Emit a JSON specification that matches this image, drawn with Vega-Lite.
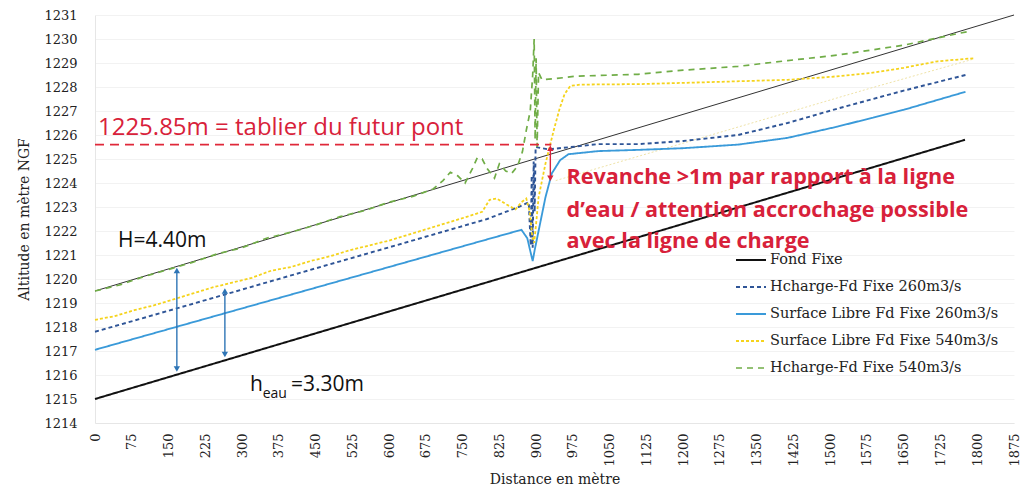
{
  "$schema": "https://vega.github.io/schema/vega-lite/v6.json",
  "width": 919,
  "height": 408,
  "autosize": "none",
  "padding": {"left": 95, "top": 15, "right": 8, "bottom": 67},
  "background": "white",
  "config": {
    "view": {"stroke": null},
    "axis": {"labelFont": "DejaVu Serif", "titleFont": "DejaVu Serif", "labelColor": "#222", "titleColor": "#222", "titleFontWeight": "normal", "labelOverlap": false, "labelFlush": false, "labelBound": false}
  },
  "datasets": {
    "series": [
      {"s": "Fond Fixe", "d": 0, "z": 1215},
      {"s": "Fond Fixe", "d": 900, "z": 1220.47},
      {"s": "Fond Fixe", "d": 1775, "z": 1225.8},

      {"s": "Hcharge-Fd Fixe 260m3/s", "d": 0, "z": 1217.8},
      {"s": "Hcharge-Fd Fixe 260m3/s", "d": 200, "z": 1218.97},
      {"s": "Hcharge-Fd Fixe 260m3/s", "d": 400, "z": 1220.15},
      {"s": "Hcharge-Fd Fixe 260m3/s", "d": 600, "z": 1221.32},
      {"s": "Hcharge-Fd Fixe 260m3/s", "d": 800, "z": 1222.5},
      {"s": "Hcharge-Fd Fixe 260m3/s", "d": 864, "z": 1223.0},
      {"s": "Hcharge-Fd Fixe 260m3/s", "d": 885, "z": 1223.2},
      {"s": "Hcharge-Fd Fixe 260m3/s", "d": 889, "z": 1221.4},
      {"s": "Hcharge-Fd Fixe 260m3/s", "d": 891, "z": 1224.3},
      {"s": "Hcharge-Fd Fixe 260m3/s", "d": 893, "z": 1221.3},
      {"s": "Hcharge-Fd Fixe 260m3/s", "d": 895, "z": 1224.9},
      {"s": "Hcharge-Fd Fixe 260m3/s", "d": 897, "z": 1222.8},
      {"s": "Hcharge-Fd Fixe 260m3/s", "d": 899, "z": 1225.5},
      {"s": "Hcharge-Fd Fixe 260m3/s", "d": 925, "z": 1225.4},
      {"s": "Hcharge-Fd Fixe 260m3/s", "d": 1027, "z": 1225.62},
      {"s": "Hcharge-Fd Fixe 260m3/s", "d": 1108, "z": 1225.62},
      {"s": "Hcharge-Fd Fixe 260m3/s", "d": 1200, "z": 1225.75},
      {"s": "Hcharge-Fd Fixe 260m3/s", "d": 1312, "z": 1226.0},
      {"s": "Hcharge-Fd Fixe 260m3/s", "d": 1413, "z": 1226.5},
      {"s": "Hcharge-Fd Fixe 260m3/s", "d": 1515, "z": 1227.1},
      {"s": "Hcharge-Fd Fixe 260m3/s", "d": 1650, "z": 1227.85},
      {"s": "Hcharge-Fd Fixe 260m3/s", "d": 1776, "z": 1228.5},

      {"s": "Surface Libre Fd Fixe 260m3/s", "d": 0, "z": 1217.05},
      {"s": "Surface Libre Fd Fixe 260m3/s", "d": 200, "z": 1218.2},
      {"s": "Surface Libre Fd Fixe 260m3/s", "d": 400, "z": 1219.35},
      {"s": "Surface Libre Fd Fixe 260m3/s", "d": 600, "z": 1220.5},
      {"s": "Surface Libre Fd Fixe 260m3/s", "d": 800, "z": 1221.65},
      {"s": "Surface Libre Fd Fixe 260m3/s", "d": 870, "z": 1222.05},
      {"s": "Surface Libre Fd Fixe 260m3/s", "d": 882, "z": 1221.7},
      {"s": "Surface Libre Fd Fixe 260m3/s", "d": 890, "z": 1221.0},
      {"s": "Surface Libre Fd Fixe 260m3/s", "d": 893, "z": 1220.75},
      {"s": "Surface Libre Fd Fixe 260m3/s", "d": 897, "z": 1221.2},
      {"s": "Surface Libre Fd Fixe 260m3/s", "d": 905, "z": 1222.0},
      {"s": "Surface Libre Fd Fixe 260m3/s", "d": 919, "z": 1223.4},
      {"s": "Surface Libre Fd Fixe 260m3/s", "d": 932, "z": 1224.4},
      {"s": "Surface Libre Fd Fixe 260m3/s", "d": 949, "z": 1224.95},
      {"s": "Surface Libre Fd Fixe 260m3/s", "d": 966, "z": 1225.2},
      {"s": "Surface Libre Fd Fixe 260m3/s", "d": 1027, "z": 1225.33},
      {"s": "Surface Libre Fd Fixe 260m3/s", "d": 1108, "z": 1225.38},
      {"s": "Surface Libre Fd Fixe 260m3/s", "d": 1200, "z": 1225.45},
      {"s": "Surface Libre Fd Fixe 260m3/s", "d": 1312, "z": 1225.6},
      {"s": "Surface Libre Fd Fixe 260m3/s", "d": 1413, "z": 1225.88},
      {"s": "Surface Libre Fd Fixe 260m3/s", "d": 1515, "z": 1226.35},
      {"s": "Surface Libre Fd Fixe 260m3/s", "d": 1650, "z": 1227.05},
      {"s": "Surface Libre Fd Fixe 260m3/s", "d": 1776, "z": 1227.8},

      {"s": "Surface Libre Fd Fixe 540m3/s", "d": 0, "z": 1218.3},
      {"s": "Surface Libre Fd Fixe 540m3/s", "d": 40, "z": 1218.45},
      {"s": "Surface Libre Fd Fixe 540m3/s", "d": 80, "z": 1218.7},
      {"s": "Surface Libre Fd Fixe 540m3/s", "d": 120, "z": 1218.9},
      {"s": "Surface Libre Fd Fixe 540m3/s", "d": 160, "z": 1219.15},
      {"s": "Surface Libre Fd Fixe 540m3/s", "d": 200, "z": 1219.4},
      {"s": "Surface Libre Fd Fixe 540m3/s", "d": 240, "z": 1219.65},
      {"s": "Surface Libre Fd Fixe 540m3/s", "d": 280, "z": 1219.85},
      {"s": "Surface Libre Fd Fixe 540m3/s", "d": 320, "z": 1220.05},
      {"s": "Surface Libre Fd Fixe 540m3/s", "d": 360, "z": 1220.35},
      {"s": "Surface Libre Fd Fixe 540m3/s", "d": 400, "z": 1220.5},
      {"s": "Surface Libre Fd Fixe 540m3/s", "d": 440, "z": 1220.75},
      {"s": "Surface Libre Fd Fixe 540m3/s", "d": 480, "z": 1220.95},
      {"s": "Surface Libre Fd Fixe 540m3/s", "d": 520, "z": 1221.2},
      {"s": "Surface Libre Fd Fixe 540m3/s", "d": 560, "z": 1221.4},
      {"s": "Surface Libre Fd Fixe 540m3/s", "d": 600, "z": 1221.6},
      {"s": "Surface Libre Fd Fixe 540m3/s", "d": 640, "z": 1221.85},
      {"s": "Surface Libre Fd Fixe 540m3/s", "d": 680, "z": 1222.1},
      {"s": "Surface Libre Fd Fixe 540m3/s", "d": 720, "z": 1222.35},
      {"s": "Surface Libre Fd Fixe 540m3/s", "d": 760, "z": 1222.6},
      {"s": "Surface Libre Fd Fixe 540m3/s", "d": 790, "z": 1222.8},
      {"s": "Surface Libre Fd Fixe 540m3/s", "d": 805, "z": 1223.3},
      {"s": "Surface Libre Fd Fixe 540m3/s", "d": 820, "z": 1223.35},
      {"s": "Surface Libre Fd Fixe 540m3/s", "d": 840, "z": 1223.1},
      {"s": "Surface Libre Fd Fixe 540m3/s", "d": 858, "z": 1222.9},
      {"s": "Surface Libre Fd Fixe 540m3/s", "d": 870, "z": 1223.2},
      {"s": "Surface Libre Fd Fixe 540m3/s", "d": 880, "z": 1223.35},
      {"s": "Surface Libre Fd Fixe 540m3/s", "d": 887, "z": 1222.8},
      {"s": "Surface Libre Fd Fixe 540m3/s", "d": 892, "z": 1221.8},
      {"s": "Surface Libre Fd Fixe 540m3/s", "d": 896, "z": 1221.5},
      {"s": "Surface Libre Fd Fixe 540m3/s", "d": 900, "z": 1222.3},
      {"s": "Surface Libre Fd Fixe 540m3/s", "d": 905, "z": 1223.4},
      {"s": "Surface Libre Fd Fixe 540m3/s", "d": 919, "z": 1224.8},
      {"s": "Surface Libre Fd Fixe 540m3/s", "d": 936, "z": 1226.2},
      {"s": "Surface Libre Fd Fixe 540m3/s", "d": 948, "z": 1227.1},
      {"s": "Surface Libre Fd Fixe 540m3/s", "d": 958, "z": 1227.7},
      {"s": "Surface Libre Fd Fixe 540m3/s", "d": 970, "z": 1228.05},
      {"s": "Surface Libre Fd Fixe 540m3/s", "d": 990, "z": 1228.1},
      {"s": "Surface Libre Fd Fixe 540m3/s", "d": 1108, "z": 1228.12},
      {"s": "Surface Libre Fd Fixe 540m3/s", "d": 1250, "z": 1228.2},
      {"s": "Surface Libre Fd Fixe 540m3/s", "d": 1413, "z": 1228.3},
      {"s": "Surface Libre Fd Fixe 540m3/s", "d": 1500, "z": 1228.42},
      {"s": "Surface Libre Fd Fixe 540m3/s", "d": 1582, "z": 1228.58},
      {"s": "Surface Libre Fd Fixe 540m3/s", "d": 1650, "z": 1228.8},
      {"s": "Surface Libre Fd Fixe 540m3/s", "d": 1719, "z": 1229.07},
      {"s": "Surface Libre Fd Fixe 540m3/s", "d": 1794, "z": 1229.2},

      {"s": "Hcharge-Fd Fixe 540m3/s", "d": 0, "z": 1219.5},
      {"s": "Hcharge-Fd Fixe 540m3/s", "d": 50, "z": 1219.75},
      {"s": "Hcharge-Fd Fixe 540m3/s", "d": 100, "z": 1220.1},
      {"s": "Hcharge-Fd Fixe 540m3/s", "d": 150, "z": 1220.4},
      {"s": "Hcharge-Fd Fixe 540m3/s", "d": 200, "z": 1220.7},
      {"s": "Hcharge-Fd Fixe 540m3/s", "d": 250, "z": 1221.05},
      {"s": "Hcharge-Fd Fixe 540m3/s", "d": 300, "z": 1221.3},
      {"s": "Hcharge-Fd Fixe 540m3/s", "d": 350, "z": 1221.7},
      {"s": "Hcharge-Fd Fixe 540m3/s", "d": 400, "z": 1221.95},
      {"s": "Hcharge-Fd Fixe 540m3/s", "d": 450, "z": 1222.25},
      {"s": "Hcharge-Fd Fixe 540m3/s", "d": 500, "z": 1222.6},
      {"s": "Hcharge-Fd Fixe 540m3/s", "d": 550, "z": 1222.85},
      {"s": "Hcharge-Fd Fixe 540m3/s", "d": 600, "z": 1223.2},
      {"s": "Hcharge-Fd Fixe 540m3/s", "d": 650, "z": 1223.45},
      {"s": "Hcharge-Fd Fixe 540m3/s", "d": 690, "z": 1223.75},
      {"s": "Hcharge-Fd Fixe 540m3/s", "d": 710, "z": 1224.1},
      {"s": "Hcharge-Fd Fixe 540m3/s", "d": 725, "z": 1224.45},
      {"s": "Hcharge-Fd Fixe 540m3/s", "d": 740, "z": 1224.3},
      {"s": "Hcharge-Fd Fixe 540m3/s", "d": 755, "z": 1224.0},
      {"s": "Hcharge-Fd Fixe 540m3/s", "d": 770, "z": 1224.6},
      {"s": "Hcharge-Fd Fixe 540m3/s", "d": 780, "z": 1225.05},
      {"s": "Hcharge-Fd Fixe 540m3/s", "d": 790, "z": 1225.0},
      {"s": "Hcharge-Fd Fixe 540m3/s", "d": 800, "z": 1224.6},
      {"s": "Hcharge-Fd Fixe 540m3/s", "d": 815, "z": 1224.2},
      {"s": "Hcharge-Fd Fixe 540m3/s", "d": 825, "z": 1224.8},
      {"s": "Hcharge-Fd Fixe 540m3/s", "d": 838, "z": 1224.5},
      {"s": "Hcharge-Fd Fixe 540m3/s", "d": 850, "z": 1224.4},
      {"s": "Hcharge-Fd Fixe 540m3/s", "d": 862, "z": 1224.7},
      {"s": "Hcharge-Fd Fixe 540m3/s", "d": 872, "z": 1225.3},
      {"s": "Hcharge-Fd Fixe 540m3/s", "d": 880, "z": 1226.2},
      {"s": "Hcharge-Fd Fixe 540m3/s", "d": 888, "z": 1227.0},
      {"s": "Hcharge-Fd Fixe 540m3/s", "d": 893, "z": 1228.5},
      {"s": "Hcharge-Fd Fixe 540m3/s", "d": 896, "z": 1230.0},
      {"s": "Hcharge-Fd Fixe 540m3/s", "d": 898, "z": 1225.8},
      {"s": "Hcharge-Fd Fixe 540m3/s", "d": 900, "z": 1229.2},
      {"s": "Hcharge-Fd Fixe 540m3/s", "d": 902, "z": 1225.5},
      {"s": "Hcharge-Fd Fixe 540m3/s", "d": 905, "z": 1228.6},
      {"s": "Hcharge-Fd Fixe 540m3/s", "d": 912, "z": 1228.3},
      {"s": "Hcharge-Fd Fixe 540m3/s", "d": 940, "z": 1228.35},
      {"s": "Hcharge-Fd Fixe 540m3/s", "d": 980, "z": 1228.45},
      {"s": "Hcharge-Fd Fixe 540m3/s", "d": 1108, "z": 1228.53},
      {"s": "Hcharge-Fd Fixe 540m3/s", "d": 1200, "z": 1228.7},
      {"s": "Hcharge-Fd Fixe 540m3/s", "d": 1312, "z": 1228.86},
      {"s": "Hcharge-Fd Fixe 540m3/s", "d": 1413, "z": 1229.1},
      {"s": "Hcharge-Fd Fixe 540m3/s", "d": 1515, "z": 1229.33},
      {"s": "Hcharge-Fd Fixe 540m3/s", "d": 1652, "z": 1229.75},
      {"s": "Hcharge-Fd Fixe 540m3/s", "d": 1766, "z": 1230.25},
      {"s": "Hcharge-Fd Fixe 540m3/s", "d": 1780, "z": 1230.3}
    ],
    "refline": [
      {"d": 0, "z": 1219.5},
      {"d": 1875, "z": 1231}
    ],
    "faint": [
      {"d": 940, "z": 1224.1},
      {"d": 1190, "z": 1225.6},
      {"d": 1582, "z": 1227.95},
      {"d": 1790, "z": 1229.15}
    ]
  },
  "encoding": {
    "x": {"field": "d", "type": "quantitative", "scale": {"domain": [0, 1875], "nice": false, "zero": false},
      "axis": {"title": "Distance en mètre", "values": [0,75,150,225,300,375,450,525,600,675,750,825,900,975,1050,1125,1200,1275,1350,1425,1500,1575,1650,1725,1800,1875],
        "format": "d", "labelOverlap": false, "labelAngle": -90, "labelFontSize": 13, "labelPadding": 10, "ticks": false, "grid": false, "domainColor": "#e6e6e6", "titleFontSize": 14, "titlePadding": 6}},
    "y": {"field": "z", "type": "quantitative", "scale": {"domain": [1214, 1231], "nice": false, "zero": false},
      "axis": {"title": "Altitude en mètre NGF", "values": [1214,1215,1216,1217,1218,1219,1220,1221,1222,1223,1224,1225,1226,1227,1228,1229,1230,1231],
        "format": "d", "labelOverlap": false, "labelFontSize": 13, "labelPadding": 18, "ticks": false, "grid": true, "gridColor": "#f2f2f2", "domainColor": "#e6e6e6", "titleFontSize": 14, "titlePadding": 12}}
  },
  "layer": [
    {
      "data": {"name": "refline"},
      "mark": {"type": "line", "color": "#333", "strokeWidth": 1}
    },
    {
      "data": {"name": "faint"},
      "mark": {"type": "line", "color": "#efe3a8", "strokeWidth": 1, "strokeDash": [2, 2]}
    },
    {
      "data": {"name": "series"},
      "mark": {"type": "line"},
      "encoding": {
        "detail": {"field": "s"},
        "order": {"field": "d", "type": "quantitative"},
        "color": {"field": "s", "type": "nominal",
          "scale": {"domain": ["Fond Fixe", "Hcharge-Fd Fixe 260m3/s", "Surface Libre Fd Fixe 260m3/s", "Surface Libre Fd Fixe 540m3/s", "Hcharge-Fd Fixe 540m3/s"],
            "range": ["#111111", "#2f5597", "#3a9ad9", "#f5d31c", "#70ad47"]},
          "legend": {"title": null, "orient": "none", "legendX": 640, "legendY": 229, "symbolType": "stroke", "symbolSize": 900, "symbolStrokeWidth": 1.6,
            "labelFont": "DejaVu Serif", "labelFontSize": 14.5, "labelColor": "#222", "labelLimit": 0, "rowPadding": 4, "labelOffset": 3, "symbolOffset": 0}},
        "strokeDash": {"field": "s", "type": "nominal",
          "scale": {"domain": ["Fond Fixe", "Hcharge-Fd Fixe 260m3/s", "Surface Libre Fd Fixe 260m3/s", "Surface Libre Fd Fixe 540m3/s", "Hcharge-Fd Fixe 540m3/s"],
            "range": [[1, 0], [4, 3], [1, 0], [3, 2], [6, 5]]}},
        "strokeWidth": {"field": "s", "type": "nominal", "legend": null,
          "scale": {"domain": ["Fond Fixe", "Hcharge-Fd Fixe 260m3/s", "Surface Libre Fd Fixe 260m3/s", "Surface Libre Fd Fixe 540m3/s", "Hcharge-Fd Fixe 540m3/s"],
            "range": [2, 1.7, 1.8, 1.6, 2.6]}}
      }
    },
    {
      "data": {"values": [{"d": 0, "x1": 931, "z": 1225.6}]},
      "mark": {"type": "rule", "color": "#e0283a", "strokeWidth": 1.6, "strokeDash": [9, 6]},
      "encoding": {
        "x2": {"field": "x1"}
      }
    },
    {
      "data": {"values": [
        {"d": 929, "z": 1225.45, "b": 1224.25, "c": "#d8213a"},
        {"d": 167, "z": 1220.35, "b": 1216.3, "c": "#2e75b6"},
        {"d": 265, "z": 1219.5, "b": 1216.9, "c": "#2e75b6"}
      ]},
      "mark": {"type": "rule", "strokeWidth": 1.4},
      "encoding": {
        "y2": {"field": "b"},
        "color": {"field": "c", "type": "nominal", "scale": null, "legend": null}
      }
    },
    {
      "data": {"values": [
        {"d": 929, "z": 1225.45, "c": "#d8213a", "sh": "triangle-up"},
        {"d": 929, "z": 1224.2, "c": "#d8213a", "sh": "triangle-down"},
        {"d": 167, "z": 1220.35, "c": "#2e75b6", "sh": "triangle-up"},
        {"d": 167, "z": 1216.25, "c": "#2e75b6", "sh": "triangle-down"},
        {"d": 265, "z": 1219.5, "c": "#2e75b6", "sh": "triangle-up"},
        {"d": 265, "z": 1216.85, "c": "#2e75b6", "sh": "triangle-down"}
      ]},
      "mark": {"type": "point", "filled": true, "size": 40, "opacity": 1},
      "encoding": {
        "color": {"field": "c", "type": "nominal", "scale": null, "legend": null},
        "shape": {"field": "sh", "type": "nominal", "scale": null, "legend": null}
      }
    },
    {
      "data": {"values": [{"d": 6, "z": 1226.3, "t": "1225.85m = tablier du futur pont"}]},
      "mark": {"type": "text", "align": "left", "baseline": "middle", "font": "Open Sans", "fontSize": 24, "color": "#d8213a"},
      "encoding": {
        "text": {"field": "t"}
      }
    },
    {
      "data": {"values": [
        {"d": 962, "z": 1224.2, "t": "Revanche >1m par rapport à la ligne"},
        {"d": 962, "z": 1222.85, "t": "d’eau / attention accrochage possible"},
        {"d": 962, "z": 1221.55, "t": "avec la ligne de charge"}
      ]},
      "mark": {"type": "text", "align": "left", "baseline": "middle", "font": "Open Sans", "fontWeight": "bold", "fontSize": 21.6, "color": "#d8213a"},
      "encoding": {
        "text": {"field": "t"}
      }
    },
    {
      "data": {"values": [
        {"d": 47, "z": 1221.6, "t": "H=4.40m"},
        {"d": 316, "z": 1215.6, "t": "h"},
        {"d": 400, "z": 1215.6, "t": "=3.30m"}
      ]},
      "mark": {"type": "text", "align": "left", "baseline": "middle", "font": "Open Sans", "fontSize": 21, "color": "#111"},
      "encoding": {
        "text": {"field": "t"}
      }
    },
    {
      "data": {"values": [{"d": 342, "z": 1215.2, "t": "eau"}]},
      "mark": {"type": "text", "align": "left", "baseline": "middle", "font": "Open Sans", "fontSize": 14, "color": "#111"},
      "encoding": {
        "text": {"field": "t"}
      }
    }
  ]
}
